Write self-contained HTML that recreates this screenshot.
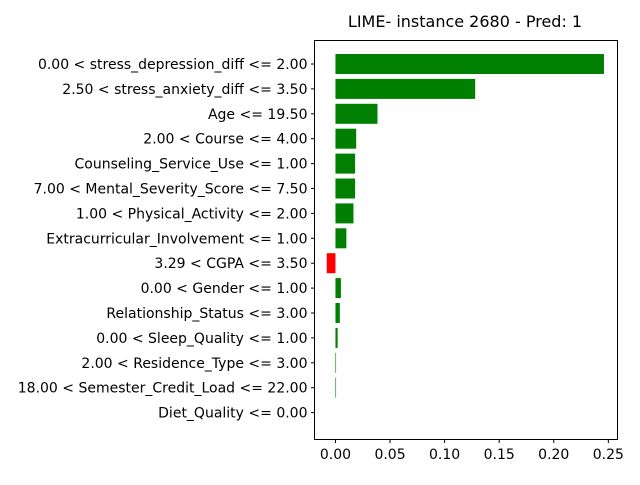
<!DOCTYPE html>
<html><head><meta charset="utf-8"><style>
body{margin:0;background:#fff;font-family:"Liberation Sans","DejaVu Sans",sans-serif;}
svg text{font-family:"DejaVu Sans","Liberation Sans",sans-serif;}
</style></head><body>
<svg id="chart" width="640" height="480" xmlns="http://www.w3.org/2000/svg">
<text x="465" y="27" font-size="16" text-anchor="middle">LIME- instance 2680 - Pred: 1</text>
<g id="bars"></g>
<g id="yaxis"></g>
<g id="xaxis"></g>
<rect x="314.5" y="40.5" width="303" height="399" fill="none" stroke="#000" stroke-width="1"/>
</svg>
<script>
const categories = ["0.00 < stress_depression_diff <= 2.00","2.50 < stress_anxiety_diff <= 3.50","Age <= 19.50","2.00 < Course <= 4.00","Counseling_Service_Use <= 1.00","7.00 < Mental_Severity_Score <= 7.50","1.00 < Physical_Activity <= 2.00","Extracurricular_Involvement <= 1.00","3.29 < CGPA <= 3.50","0.00 < Gender <= 1.00","Relationship_Status <= 3.00","0.00 < Sleep_Quality <= 1.00","2.00 < Residence_Type <= 3.00","18.00 < Semester_Credit_Load <= 22.00","Diet_Quality <= 0.00"];
const weights = [0.246,0.128,0.0385,0.019,0.018,0.018,0.0165,0.010,-0.008,0.005,0.004,0.002,0.0005,0.0004,0];
const xTicks = [0,0.05,0.10,0.15,0.20,0.25];
const xTickLabels = ["0.00","0.05","0.10","0.15","0.20","0.25"];
const NS="http://www.w3.org/2000/svg";
const xMin=-0.0192, xMax=0.2584, L=314.5, R=617.5;
function xs(v){return L+(v-xMin)/(xMax-xMin)*(R-L);}
function ys(i){return 64+i*24.9;}
const bars=document.getElementById('bars'),ya=document.getElementById('yaxis'),xa=document.getElementById('xaxis');
categories.forEach((c,i)=>{
  const v=weights[i];
  const r=document.createElementNS(NS,'rect');
  
  
  const x0=xs(Math.min(0,v)),x1=xs(Math.max(0,v));
  r.setAttribute('x',x0);r.setAttribute('width',Math.max(x1-x0,0.6));
  r.setAttribute('y',ys(i)-10);r.setAttribute('height',20);
  r.setAttribute('fill',v>0?'#008000':(v<0?'#ff0000':'none'));
  bars.appendChild(r);
  const t=document.createElementNS(NS,'line');
  
  
  t.setAttribute('x1',L-3.5);t.setAttribute('x2',L);t.setAttribute('y1',ys(i));t.setAttribute('y2',ys(i));t.setAttribute('stroke','#000');
  ya.appendChild(t);
  const tx=document.createElementNS(NS,'text');
  
  
  tx.setAttribute('x',L-7);tx.setAttribute('y',ys(i)+5);tx.setAttribute('font-size','14');tx.setAttribute('text-anchor','end');
  tx.textContent=c;ya.appendChild(tx);
});
xTicks.forEach((v,i)=>{
  const t=document.createElementNS(NS,'line');
  
  
  t.setAttribute('x1',xs(v));t.setAttribute('x2',xs(v));t.setAttribute('y1',439.5);t.setAttribute('y2',443);t.setAttribute('stroke','#000');
  xa.appendChild(t);
  const tx=document.createElementNS(NS,'text');
  
  
  tx.setAttribute('x',xs(v));tx.setAttribute('y',459);tx.setAttribute('font-size','14');tx.setAttribute('text-anchor','middle');
  tx.textContent=xTickLabels[i];xa.appendChild(tx);
});
</script>
</body></html>
